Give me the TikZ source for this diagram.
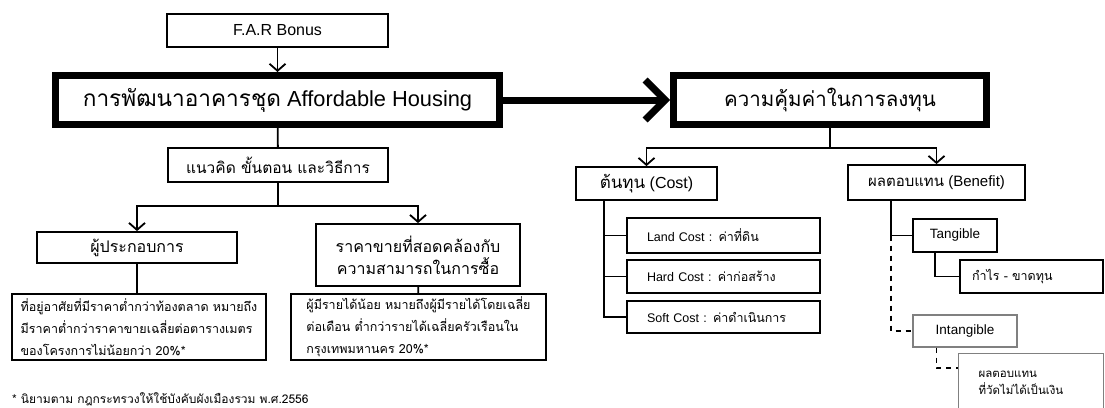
\documentclass[tikz,border=0pt]{standalone}
\usepackage{fontspec}
\setmainfont{Liberation Sans}
\newfontfamily\thaifont[Script=Thai]{Loma}
\newcommand{\tf}[1]{{\thaifont #1}}
\usetikzlibrary{arrows.meta,calc}

\begin{document}
\begin{tikzpicture}[x=1pt,y=-1pt,
		box/.style={draw,line width=1.8pt,inner sep=0pt,align=center},
		mainbox/.style={draw,line width=7pt,inner sep=0pt,align=center},
		softbox/.style={draw=gray,line width=1.3pt,inner sep=0pt},
		leftbox/.style={box,align=left,inner xsep=20pt},
		link/.style={line width=1.8pt},
		arr/.style={line width=1.8pt,-{Straight Barb[length=7pt,width=16pt]}},
		bigarr/.style={line width=7pt,-{Straight Barb[length=20pt,width=40pt]}},
		dashlink/.style={line width=1.4pt,dash pattern=on 5pt off 5pt}]
		\useasboundingbox (0,0) rectangle (1105,407);
		\clip (0,0) rectangle (1105,407);
		\node[box,minimum width=221,minimum height=33,font=\fontsize{16}{18}\selectfont] (far) at (277.5,30.5) {F.A.R Bonus};
		\node[mainbox,minimum width=444,minimum height=49,font=\fontsize{21.8}{26}\selectfont] (dev) at (277.5,100) {{\thaifont\fontsize{22.6}{26}\selectfont การพัฒนาอาคารชุด} Affordable Housing};
		\node[mainbox,minimum width=313,minimum height=49,font=\thaifont\fontsize{20.5}{26}\selectfont] (worth) at (830,100) {ความคุ้มค่าในการลงทุน};
		\draw[arr] (far) -- (dev);
		\draw[bigarr] (dev) -- (worth);
		% left branch
		\node[box,minimum width=220,minimum height=34,font=\thaifont\fontsize{15.5}{18}\selectfont] (idea) at (278,165) {แนวคิด ขั้นตอน และวิธีการ};
		\node[box,minimum width=200,minimum height=31,font=\thaifont\fontsize{16}{18}\selectfont] (op) at (137,247.5) {ผู้ประกอบการ};
		\node[box,minimum width=204,minimum height=62,font=\thaifont\fontsize{16}{22}\selectfont] (price) at (418,255) {ราคาขายที่สอดคล้องกับ\\ความสามารถในการซื้อ};
		\node[box,align=left,minimum width=254,minimum height=66,font=\thaifont\fontsize{12.5}{22}\selectfont] (opdesc) at (139,327) {ที่อยู่อาศัยที่มีราคาต่ำกว่าท้องตลาด หมายถึง\\มีราคาต่ำกว่าราคาขายเฉลี่ยต่อตารางเมตร\\ของโครงการไม่น้อยกว่า 20\%*};
		\node[box,align=left,minimum width=255,minimum height=66,font=\thaifont\fontsize{12.5}{22}\selectfont] (pricedesc) at (418.5,327) {ผู้มีรายได้น้อย หมายถึงผู้มีรายได้โดยเฉลี่ย\\ต่อเดือน ต่ำกว่ารายได้เฉลี่ยครัวเรือนใน\\กรุงเทพมหานคร 20\%*};
		\node[anchor=south west,inner sep=0pt,font=\thaifont\fontsize{12}{14}\selectfont] (note) at (12,406) {* นิยามตาม กฎกระทรวงให้ใช้บังคับผังเมืองรวม พ.ศ.2556};
		\draw[link] (dev) -- (idea);
		\draw[arr] (idea.south) -- ++(0,23) -| (op.north);
		\draw[arr] (idea.south) -- ++(0,23) -| (price.north);
		\draw[link] (op.south) -- (op.south |- opdesc.north);
		\draw[link] (price) -- (pricedesc);
		% right branch
		\node[box,minimum width=141,minimum height=33,font=\fontsize{16}{20}\selectfont] (cost) at (646.5,183.5) {{\thaifont\fontsize{17}{20}\selectfont ต้นทุน} (Cost)};
		\node[box,minimum width=177,minimum height=35,font=\fontsize{15}{20}\selectfont] (benefit) at (936.5,182.5) {{\thaifont\fontsize{15}{20}\selectfont ผลตอบแทน} (Benefit)};
		\draw[arr] (worth.south) -- ++(0,20) -| (cost.north);
		\draw[arr] (worth.south) -- ++(0,20) -| (benefit.north);
		\node[leftbox,text width=153,minimum height=35,font=\fontsize{12.5}{14}\selectfont] (land) at (723.5,235.5) {Land Cost : \tf{ค่าที่ดิน}};
		\node[leftbox,text width=153,minimum height=33,font=\fontsize{12.5}{14}\selectfont] (hard) at (723.5,276.5) {Hard Cost : \tf{ค่าก่อสร้าง}};
		\node[leftbox,text width=153,minimum height=32,font=\fontsize{12.5}{14}\selectfont] (soft) at (723.5,317) {Soft Cost : \tf{ค่าดำเนินการ}};
		\coordinate (cs) at ($(cost.south west)+(29,0)$);
		\draw[link] (cs) |- (land.west);
		\draw[link] (cs) |- (hard.west);
		\draw[link] (cs) |- (soft.west);
		\node[box,minimum width=84,minimum height=33,font=\fontsize{13.5}{16}\selectfont] (tang) at (955,235.5) {Tangible};
		\node[box,align=left,inner xsep=12pt,text width=119,minimum height=33,font=\thaifont\fontsize{12.5}{16}\selectfont] (profit) at (1031.5,276.5) {กำไร - ขาดทุน};
		\node[softbox,minimum width=104,minimum height=32,font=\fontsize{13.5}{16}\selectfont] (intang) at (965,331) {Intangible};
		\node[softbox,anchor=north west,align=left,inner xsep=20pt,text width=105,minimum height=58,font=\thaifont\fontsize{11.5}{17}\selectfont] (nomoney) at (958,353) {ผลตอบแทน\\ที่วัดไม่ได้เป็นเงิน};
		\coordinate (bs) at ($(benefit.south west)+(44,0)$);
		\draw[link] (bs) |- (tang.west);
		\draw[dashlink] (bs |- tang.west) |- (intang.west);
		\draw[link] ($(tang.south west)+(23,0)$) |- (profit.west);
		\draw[dashlink] ($(intang.south west)+(24,0)$) |- ($(nomoney.north west)+(0,15)$);
\end{tikzpicture}
\end{document}
